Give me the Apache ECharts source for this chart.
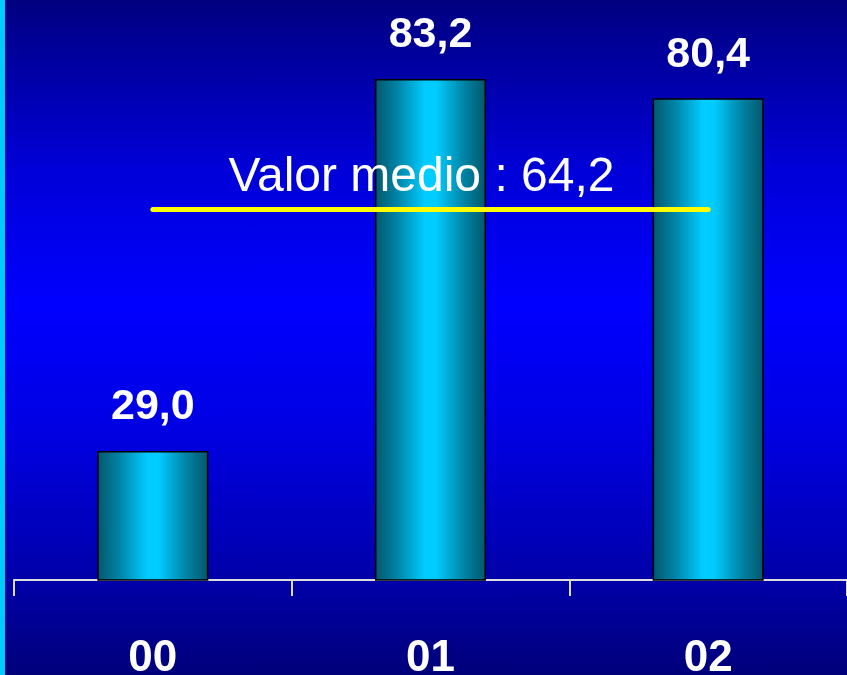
<!DOCTYPE html>
<html>
<head>
<meta charset="utf-8">
<script src="https://cdn.jsdelivr.net/npm/echarts@6/dist/echarts.min.js"></script>
<style>
html,body{margin:0;padding:0;}
#wrap{position:relative;width:847px;height:675px;background:linear-gradient(to bottom,#000080 0%,#0000d8 25%,#0000ff 45%,#0000e0 65%,#0000a8 86%,#00007a 100%);}
#stripe{position:absolute;left:0;top:0;width:5px;height:675px;background:#00ccff;}
#chart{position:absolute;left:0;top:0;width:847px;height:675px;}
</style>
</head>
<body>
<div id="wrap"><div id="stripe"></div><div id="chart"></div></div>
<script>
const categories = ['00', '01', '02'];
const values = [29.0, 83.2, 80.4];
const meanValue = 64.2;
const meanLabel = 'Valor medio : 64,2';

const fmt = v => v.toFixed(1).replace('.', ',');
const chart = echarts.init(document.getElementById('chart'));
chart.setOption({
  backgroundColor: 'transparent',
  animation: false,
  grid: {left: 14, right: 0, top: 0, bottom: 95, containLabel: false, outerBoundsMode: 'none'},
  xAxis: {
    type: 'category',
    data: categories,
    boundaryGap: true,
    axisLine: {lineStyle: {color: '#dddddd', width: 2}},
    axisTick: {show: true, length: 16, lineStyle: {color: '#dddddd', width: 2}},
    axisLabel: {color: '#ffffff', fontFamily: 'Liberation Sans, Arial', fontWeight: 'bold', fontSize: 44, margin: 57}
  },
  yAxis: {
    type: 'value', min: 10.2, max: 94.7, show: false, splitLine: {show: false}
  },
  series: [{
    type: 'bar',
    data: values,
    barWidth: '40%',
    itemStyle: {
      borderColor: '#000000', borderWidth: 1.5,
      color: new echarts.graphic.LinearGradient(0, 0, 1, 0, [
        {offset: 0, color: '#04566a'},
        {offset: 0.2, color: '#0084a6'},
        {offset: 0.45, color: '#00ccff'},
        {offset: 0.55, color: '#00ccff'},
        {offset: 0.8, color: '#0084a6'},
        {offset: 1, color: '#04566a'}
      ])
    },
    label: {
      show: true, position: 'top', distance: 22,
      color: '#ffffff', fontFamily: 'Liberation Sans, Arial', fontWeight: 'bold', fontSize: 43,
      formatter: p => fmt(p.value)
    },
    markLine: {
      silent: true,
      symbol: ['none', 'none'],
      lineStyle: {color: '#ffff00', width: 5, type: 'solid', cap: 'round'},
      label: {
        show: true, position: 'middle', distance: 8, offset: [-9, 0],
        color: '#ffffff', fontFamily: 'Liberation Sans, Arial', fontSize: 48,
        formatter: meanLabel
      },
      data: [[
        {coord: [categories[0], meanValue]},
        {coord: [categories[categories.length - 1], meanValue]}
      ]]
    }
  }]
});
</script>
</body>
</html>
